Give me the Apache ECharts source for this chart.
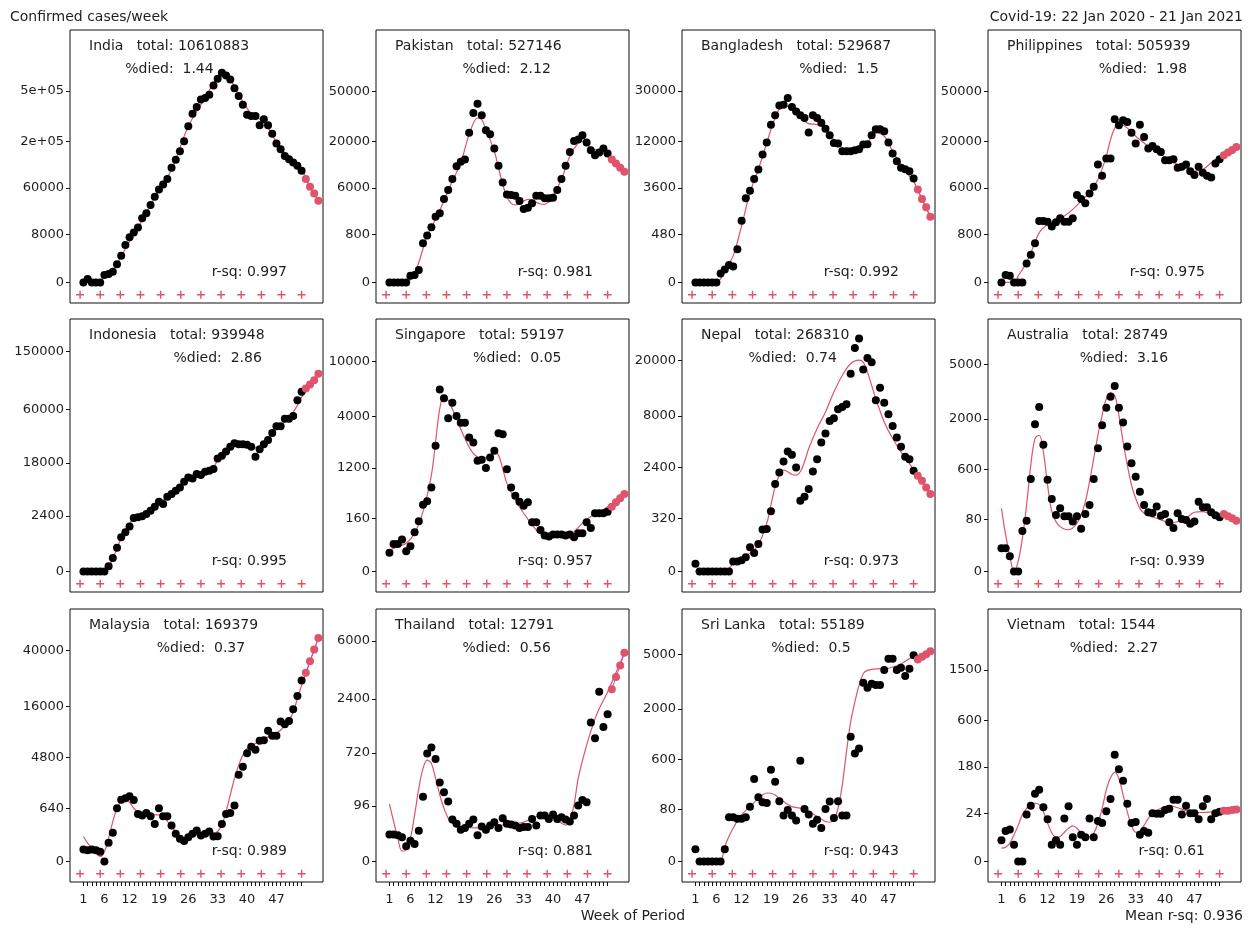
<!DOCTYPE html>
<html><head><meta charset="utf-8">
<script src="https://cdn.jsdelivr.net/npm/echarts@6/dist/echarts.min.js"></script>
<style>html,body{margin:0;padding:0;background:#fff}#c{width:1253px;height:929px}</style>
</head><body><div id="c"></div><script>
// ---------- data ----------
const countries = ['India','Pakistan','Bangladesh','Philippines','Indonesia','Singapore','Nepal','Australia','Malaysia','Thailand','Sri Lanka','Vietnam'];
const totals = [10610883,527146,529687,505939,939948,59197,268310,28749,169379,12791,55189,1544];
const pctDied = [1.44,2.12,1.5,1.98,2.86,0.05,0.74,3.16,0.37,0.56,0.5,2.27];
const rsq = [0.997,0.981,0.992,0.975,0.995,0.957,0.973,0.939,0.989,0.881,0.943,0.61];
const meanRsq = 0.936;
const yTickLabels = [
  ['0','8000','60000','2e+05','5e+05'],
  ['0','800','6000','20000','50000'],
  ['0','480','3600','12000','30000'],
  ['0','800','6000','20000','50000'],
  ['0','2400','18000','60000','150000'],
  ['0','160','1200','4000','10000'],
  ['0','320','2400','8000','20000'],
  ['0','80','600','2000','5000'],
  ['0','640','4800','16000','40000'],
  ['0','96','720','2400','6000'],
  ['0','80','600','2000','5000'],
  ['0','24','180','600','1500']
];
// value (cases/week) at the top edge of each panel
const yAxisTop = [1148700,114950,68880,114950,225860,17360,34130,9100,68780,9026,9100,3438];
const xTickLabels = [1,6,12,19,26,33,40,47];
const plusWeeks = [0.2,5.0,9.8,14.6,19.4,24.2,29.0,33.8,38.6,43.4,48.2,53.0];

const indiaCases = [0,3,0,0,0,28,41,86,435,1340,3775,6580,8830,11760,18820,23540,33080,44930,57430,67170,78730,107440,131480,161250,200830,271710,343000,385190,437750,447350,471990,545530,602720,657370,632730,596930,523800,461900,400650,337000,329100,329100,276900,309700,276900,235250,191100,168730,144700,133600,123100,113150,99250];
const indiaProj = [78730,62520,50370,38960];
const indiaFit = [[1,0],[4,0],[6,9],[8,112],[10,1242],[12,5000],[14,11760],[18,43390],[22,102830],[26,271700],[30,447350],[34,638800],[36,594000],[38,472000],[41,343000],[44,294900],[47,198060],[50,137950],[53,101060],[55,63810],[57,38960]];

const pakistanCases = [0,0,0,0,0,2,3,14,430,734,1198,2033,2357,4142,5630,7880,11225,12520,13262,24013,34740,40780,33325,25154,23230,17136,11330,7144,4870,4767,4657,3848,2827,2986,3533,4657,4657,4243,4243,4339,5630,7880,11330,15890,20256,20820,22763,19551,16506,14706,15660,17136,15290];
const pakistanProj = [13262,12010,10750,9666];
const pakistanFit = [[1,0],[5,0],[7,7],[8,57],[10,719],[12,1797],[14,3849],[16,7430],[18,12220],[20,23080],[22,31760],[23,30810],[24,25490],[26,16140],[27,10750],[28,6722],[29,4498],[30,3531],[31,3313],[33,3849],[34,4092],[35,3995],[37,3443],[38,3399],[39,3849],[40,4710],[42,7801],[44,14370],[46,19400],[47,20100],[49,17400],[51,16140],[53,14370],[55,11700],[57,9666]];

const bangladeshCases = [0,0,0,0,0,0,3,9,23,17,157,1009,2543,3300,4720,6168,8958,11710,16817,19970,23760,24030,26830,23100,21430,19970,19030,14400,19970,19030,17460,15570,13640,11620,11460,9670,9670,9670,9890,10120,11210,11300,13640,15370,15370,14780,11710,9170,7630,6440,6220,5900,4810];
const bangladeshProj = [3443,2482,1811,1218];
const bangladeshFit = [[1,0],[6,0],[7,0.2],[8,7],[10,80],[12,771],[14,3088],[16,6168],[18,11620],[20,19030],[22,24030],[24,22070],[26,19030],[28,17140],[30,16820],[32,15470],[34,12470],[36,10420],[38,9168],[40,9670],[42,11620],[44,14300],[46,13370],[48,9670],[50,7020],[52,5143],[53,4452],[55,2451],[57,1218]];

const philippinesCases = [0,3,2,0,0,0,49,150,430,1658,1658,1605,1242,1553,1883,1605,1605,1883,4767,4142,3533,5044,6260,11713,8666,13583,13583,30990,27710,30430,29505,24013,19120,28067,22000,17136,18190,16895,15890,13045,13045,13379,10750,11030,11713,9842,8831,11030,9407,8666,8267,12010,13379];
const philippinesProj = [14706,15660,16640,17780];
const philippinesFit = [[1,0],[4,0],[5,2],[7,57],[9,452],[10,884],[12,1404],[14,1658],[16,2096],[18,2790],[20,3849],[22,5153],[24,7801],[26,14370],[27,20820],[28,26330],[29,28600],[31,26330],[33,22310],[35,19400],[37,16760],[39,14940],[41,13260],[43,11710],[45,10750],[47,9842],[49,10290],[51,12220],[53,14140],[57,17780]];

const indonesiaCases = [0,0,0,0,0,0,2,33,184,562,845,1266,2147,2228,2353,2663,3153,3815,4767,4306,5860,6508,7381,8329,10123,11666,11300,12944,12552,13893,14313,15033,20213,21672,24213,27135,29590,28907,28907,28457,27135,21116,25646,28907,31945,37294,42948,42948,50078,50078,52734,70290,81464];
const indonesiaProj = [86060,91800,98300,108390];
const indonesiaFit = [[1,0],[6,0],[8,33],[10,514],[12,1568],[14,2311],[16,2757],[18,3815],[20,5113],[22,6677],[24,8530],[26,11300],[28,12550],[30,13890],[32,16080],[33,19340],[35,24410],[37,28907],[39,29360],[41,27135],[42,26480],[44,29360],[46,36770],[48,43830],[50,50730],[52,64300],[53,74450],[57,108390]];

const singaporeCases = [7,22,22,35,9,17,65,136,321,372,640,2136,6508,5593,3877,5187,4058,3554,3554,2588,2310,1462,1501,1191,1597,1893,2845,2785,1154,640,469,366,307,356,128,128,77,50,46,54,54,54,50,54,43,60,60,128,89,212,212,212,230];
const singaporeProj = [293,356,421,500];
const singaporeFit = [[1,10],[3,17],[5,24],[7,60],[9,231],[11,965],[12,2346],[13,4655],[14,5888],[15,5404],[17,3850],[19,2531],[21,1771],[23,1554],[25,1697],[26,1876],[27,1697],[28,1178],[29,736],[31,393],[33,212],[35,109],[37,56],[39,43],[41,43],[43,50],[45,68],[47,121],[49,178],[51,231],[53,293],[57,500]];

const nepalCases = [1,0,0,0,0,0,0,0,0,2,2,3,6,30,13,44,156,163,461,1414,2058,2820,3658,3361,2384,751,885,1185,2120,3003,4541,5557,7227,7617,9036,9431,9895,16370,23700,26780,17475,20660,19440,10620,13150,10190,8230,6530,5090,4100,3190,3003,2163];
const nepalProj = [1857,1582,1259,983];
const nepalFit = [[1,0],[8,0],[10,1],[12,5],[14,13],[16,40],[18,237],[19,622],[20,1289],[21,1896],[22,2206],[23,2099],[24,1935],[25,1896],[26,2099],[27,2793],[28,3938],[30,6182],[32,8598],[34,12240],[36,15970],[38,18990],[40,19990],[41,19440],[42,16790],[44,10930],[46,7085],[48,4975],[50,3626],[52,2670],[53,2206],[57,983]];

const australiaCases = [7,7,2,0,0,37,74,445,1803,2515,1147,436,215,102,142,95,95,70,95,44,107,166,445,1058,1767,2483,3017,3603,2483,1865,1102,718,480,286,166,117,113,154,98,107,67,46,111,82,77,61,70,192,149,149,117,100,90];
const australiaProj = [107,95,85,74];
const australiaFit = [[1,142],[2,28],[3,2],[4,0],[5,0.6],[6,21],[7,166],[8,679],[9,1327],[10,1429],[11,967],[12,364],[13,121],[14,70],[15,51],[16,43],[17,41],[18,46],[19,63],[20,102],[21,192],[22,408],[23,815],[24,1429],[25,2152],[26,2916],[27,3229],[28,3087],[29,2152],[30,1229],[31,679],[32,364],[33,221],[34,142],[35,111],[36,98],[38,85],[40,70],[41,63],[43,70],[45,85],[47,117],[49,121],[51,106],[53,98],[57,74]];

const malaysiaCases = [7,6,7,6,4,0,28,100,642,1008,1074,1180,992,458,412,488,394,226,642,394,394,197,90,49,36,61,90,126,74,90,114,66,69,226,458,488,743,2785,3624,5424,6435,5940,7495,7622,9514,8465,8465,11697,11030,11852,15050,19356,25360];
const malaysiaProj = [28710,34330,40670,47755];
const malaysiaFit = [[1,66],[2,26],[3,10],[4,2.4],[5,0.5],[6,4],[7,54],[8,271],[9,642],[10,914],[11,992],[12,884],[13,642],[14,529],[16,449],[18,430],[19,430],[20,386],[22,181],[24,66],[26,54],[28,80],[30,96],[32,96],[33,114],[34,209],[35,529],[36,1253],[37,2449],[38,3820],[39,5133],[40,6158],[42,7011],[44,7940],[46,8601],[48,9652],[50,12025],[51,14278],[52,18440],[53,23320],[57,47755]];

const thailandCases = [11,11,10,8,2,5,3,16,152,706,830,601,277,185,120,41,30,18,21,30,41,10,24,18,26,34,21,45,30,28,26,21,23,23,43,26,54,54,43,58,43,48,41,36,54,98,130,116,1501,1050,2744,1366,1788];
const thailandProj = [2858,3513,4224,5092];
const thailandFit = [[1,107],[2,36],[3,7],[4,0.6],[5,0.9],[6,7],[7,56],[8,219],[9,451],[10,583],[11,528],[12,321],[13,165],[14,84],[15,45],[16,31],[17,24],[19,22],[21,21],[23,22],[25,26],[27,27],[29,27],[31,29],[33,34],[35,45],[37,56],[38,60],[40,48],[42,31],[43,27],[44,40],[45,101],[46,321],[48,882],[50,1635],[51,2001],[53,2727],[57,5092]];

const sriLankaCases = [1,0,0,0,0,0,0,1,49,49,44,44,49,93,316,149,117,113,436,287,123,55,77,55,39,577,82,58,30,41,21,82,121,46,123,55,55,1093,712,815,3229,2967,3176,3105,3105,3961,4706,4706,3961,4109,3603,4045,4966];
const sriLankaProj = [4660,4846,5038,5259];
const sriLankaFit = [[1,0],[6,0],[7,0],[8,2],[10,21],[12,57],[14,93],[16,142],[17,166],[18,181],[19,179],[20,166],[22,121],[24,93],[26,85],[28,70],[30,51],[32,36],[33,34],[34,41],[35,85],[36,252],[37,745],[38,1537],[39,2293],[40,3087],[41,3740],[42,3942],[44,4045],[46,4045],[48,4151],[50,4370],[52,4706],[53,4823],[57,5259]];

const vietnamCases = [2,6,7,1,0,0,22,37,66,79,34,16,1,2,1,17,36,3,1,4,3,17,3,14,12,27,52,259,168,112,41,12,13,4,6,5,24,23,23,29,31,50,50,22,37,24,24,16,36,52,16,24,26];
const vietnamProj = [28,28,29,30];
const vietnamFit = [[1,0.5],[2,0.6],[3,1.3],[4,4],[5,10],[6,22],[7,32],[8,40],[9,42],[10,39],[11,26],[12,12],[13,5],[14,3],[15,3.3],[16,5.3],[17,7.8],[18,9.6],[19,7.8],[20,4.8],[21,3.3],[22,3.3],[23,4.8],[24,12],[25,32],[26,78],[27,125],[28,151],[29,122],[30,63],[31,26],[32,10],[33,5.3],[34,6.1],[35,10],[36,17],[37,24],[39,32],[41,37],[43,33],[45,28],[47,25],[49,25],[51,26],[53,28],[57,30]];

const casesList = [indiaCases,pakistanCases,bangladeshCases,philippinesCases,indonesiaCases,singaporeCases,nepalCases,australiaCases,malaysiaCases,thailandCases,sriLankaCases,vietnamCases];
const projList = [indiaProj,pakistanProj,bangladeshProj,philippinesProj,indonesiaProj,singaporeProj,nepalProj,australiaProj,malaysiaProj,thailandProj,sriLankaProj,vietnamProj];
const fitList = [indiaFit,pakistanFit,bangladeshFit,philippinesFit,indonesiaFit,singaporeFit,nepalFit,australiaFit,malaysiaFit,thailandFit,sriLankaFit,vietnamFit];

// ---------- layout ----------
const RED = '#DF536B', INK = '#1e1e1e', FONT = 'DejaVu Sans';
const colLeft = [70, 376, 682, 988], rowTop = [30, 319, 609], PW = 253, PH = 273;
const diedCenter = [99.5,130.7,157,155,147.7,141.3,110.7,136,131,130.7,129,126];
const weekTicks = Array.from({length:53}, (_, k) => k + 1);
const cb = Math.cbrt;

const grids=[], xAxes=[], yAxes=[], series=[], graphics=[];
countries.forEach((name, i) => {
  const r = Math.floor(i/4), c = i % 4, L = colLeft[c], T = rowTop[r];
  grids.push({left:L, top:T, width:PW, height:PH, show:true, borderColor:'#111', borderWidth:1, backgroundColor:'transparent'});
  const yMax = cb(yAxisTop[i]), yMin = -yMax*62/760;
  const bottom = r === 2;
  xAxes.push({gridIndex:i, type:'value', min:-2.2, max:58.1, position:'bottom',
    axisLine:{show:false, onZero:false}, splitLine:{show:false},
    axisTick:{show:bottom, length:4, customValues:weekTicks, lineStyle:{color:'#111', width:1}},
    axisLabel:{show:bottom, customValues:xTickLabels, margin:11, fontSize:13, fontFamily:FONT, color:INK,
      formatter:v => String(Math.round(v))}});
  const labs = yTickLabels[i], pos = labs.map(s => cb(Number(s)));
  yAxes.push({gridIndex:i, type:'value', min:yMin, max:yMax, position:'left',
    axisLine:{show:false, onZero:false}, splitLine:{show:false},
    axisTick:{show:true, length:4, customValues:pos, lineStyle:{color:'#111', width:1}},
    axisLabel:{customValues:pos, margin:6, fontSize:13, fontFamily:FONT, color:INK,
      formatter:v => { let b = 0; pos.forEach((t,k) => { if (Math.abs(t-v) < Math.abs(pos[b]-v)) b = k; }); return labs[b]; }}});
  const ax = {xAxisIndex:i, yAxisIndex:i};
  series.push(Object.assign({type:'line', data:fitList[i].map(([w,v]) => [w, cb(v)]), smooth:0.35,
    symbol:'none', lineStyle:{color:RED, width:1.2}, z:2, silent:true}, ax));
  series.push(Object.assign({type:'line', data:projList[i].map((v,k) => [54+k, cb(v)]),
    symbol:'none', lineStyle:{color:'#C84BC8', width:1}, z:3, silent:true}, ax));
  series.push(Object.assign({type:'scatter', data:casesList[i].map((v,k) => [k+1, cb(v)]),
    symbolSize:8, itemStyle:{color:'#000', opacity:1}, z:4, silent:true}, ax));
  series.push(Object.assign({type:'scatter', data:projList[i].map((v,k) => [54+k, cb(v)]),
    symbolSize:8, itemStyle:{color:RED, opacity:1}, z:5, silent:true}, ax));
  series.push(Object.assign({type:'scatter', data:plusWeeks.map(w => [w, yMin*37/62]),
    symbol:'path://M0,5L10,5M5,0L5,10', symbolSize:8,
    itemStyle:{color:'rgba(0,0,0,0)', borderColor:RED, borderWidth:1.4, opacity:1}, z:4, silent:true}, ax));
  const st = (text, align) => ({text, font:'14px "DejaVu Sans"', fill:INK, textAlign:align, align:align,
    textVerticalAlign:'middle', verticalAlign:'middle'});
  graphics.push({type:'text', x:L+19, y:T+16.2, style:st(name + '   total: ' + totals[i], 'left')});
  graphics.push({type:'text', x:L+diedCenter[i], y:T+39.8, style:st('%died:  ' + pctDied[i], 'center')});
  graphics.push({type:'text', x:L+217, y:T+242, style:st('r-sq: ' + rsq[i], 'right')});
});
const tst = (text, align) => ({text, font:'14px "DejaVu Sans"', fill:INK, textAlign:align, align:align,
  textVerticalAlign:'middle', verticalAlign:'middle'});
graphics.push({type:'text', x:10, y:17, style:tst('Confirmed cases/week', 'left')});
graphics.push({type:'text', x:1243, y:17, style:tst('Covid-19: 22 Jan 2020 - 21 Jan 2021', 'right')});
graphics.push({type:'text', x:633, y:916, style:tst('Week of Period', 'center')});
graphics.push({type:'text', x:1243, y:916, style:tst('Mean r-sq: ' + meanRsq, 'right')});

const chart = echarts.init(document.getElementById('c'), null, {renderer:'canvas'});
chart.setOption({animation:false, backgroundColor:'#fff', textStyle:{fontFamily:FONT},
  grid:grids, xAxis:xAxes, yAxis:yAxes, series:series, graphic:graphics});
</script></body></html>
